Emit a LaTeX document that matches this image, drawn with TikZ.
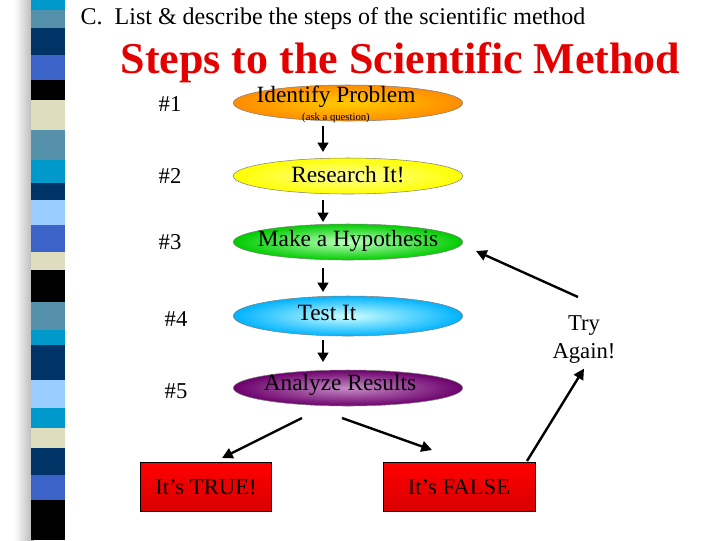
\documentclass[tikz,border=0pt]{standalone}
\usepackage{fontspec}
\setmainfont{Liberation Serif}
\usetikzlibrary{shapes.geometric,arrows.meta}
\tikzset{
  stepoval/.style={ellipse, draw=black!50, thin, minimum width=172pt, minimum height=27pt, inner sep=0pt},
  numlabel/.style={font=\fontsize{17}{19}\selectfont},
  steptext/.style={font=\fontsize{17.5}{19}\selectfont},
  downarrow/.style={-{Triangle[length=7pt,width=8pt]}, line width=1.6pt},
  bigarrow/.style={-{Triangle[length=8pt,width=8pt]}, line width=1.8pt},
  resultbox/.style={draw=black, shading=axis, top color=red, bottom color=red!85!black, minimum width=98pt, minimum height=37pt, font=\fontsize{17}{19}\selectfont}
}
\begin{document}
\begin{tikzpicture}[x=0.75pt,y=-0.75pt]
\useasboundingbox (0,0) rectangle (720,540);
\fill[white] (0,0) rectangle (720,540);
% stripes on the left
\shade[left color=white, right color=gray!60] (14,0) rectangle (34,540);
\foreach \ya/\yb/\col in {0/10/{0,153,204},10/28/{85,145,170},28/55/{0,51,102},55/80/{60,100,200},80/100/{0,0,0},100/130/{222,222,190},130/160/{85,145,170},160/183/{0,153,204},183/200/{0,51,102},200/225/{153,204,255},225/252/{60,100,200},252/270/{222,222,190},270/302/{0,0,0},302/330/{85,145,170},330/345/{0,153,204},345/380/{0,51,102},380/408/{153,204,255},408/428/{0,153,204},428/448/{222,222,190},448/475/{0,51,102},475/500/{60,100,200},500/540/{0,0,0}}{
  \definecolor{stripe}{RGB}{\col}
  \fill[stripe] (31,\ya) rectangle (65,\yb);
}
% titles
\node[anchor=west, font=\fontsize{18}{20}\selectfont] (heading) at (76,19) {C.\ \ List \& describe the steps of the scientific method};
\node[anchor=west, font=\fontsize{33}{35}\selectfont\bfseries, text=red!90!black] (title) at (116,63) {Steps to the Scientific Method};
% steps
\node[stepoval, shading=radial, inner color=orange!40!yellow, outer color=orange!90!yellow] (s1) at (348,103) {};
\node[steptext] (t1) at (336,97) {Identify Problem};
\node[font=\fontsize{8}{9}\selectfont] (q1) at (336,118) {(ask a question)};
\node[stepoval, shading=radial, inner color=yellow!40, outer color=yellow] (s2) at (348,176) {};
\node[steptext] (t2) at (348,175) {Research It!};
\node[stepoval, shading=radial, inner color=green!25, outer color=green!80!black] (s3) at (348,242) {};
\node[steptext] (t3) at (348,241) {Make a Hypothesis};
\node[stepoval, minimum height=30pt, shading=radial, inner color=cyan!20, outer color=cyan!70!blue] (s4) at (348,316) {};
\node[steptext] (t4) at (327,313) {Test It};
\node[stepoval, shading=radial, inner color=violet!45, outer color=violet!85!black] (s5) at (348,388) {};
\node[steptext] (t5) at (340,385) {Analyze Results};
% numbers
\node[numlabel] (n1) at (170,104) {\#1};
\node[numlabel] (n2) at (170,176) {\#2};
\node[numlabel] (n3) at (170,242) {\#3};
\node[numlabel] (n4) at (176,319) {\#4};
\node[numlabel] (n5) at (176,391) {\#5};
% arrows between steps
\coordinate (a1) at (323,126); \coordinate (b1) at (323,152);
\coordinate (a2) at (323,200); \coordinate (b2) at (323,222);
\coordinate (a3) at (323,268); \coordinate (b3) at (323,292);
\coordinate (a4) at (323,340); \coordinate (b4) at (323,362);
\foreach \i in {1,...,4}{\draw[downarrow] (a\i) -- (b\i);}
% results
\node[resultbox] (yes) at (206,487) {It’s TRUE!};
\node[resultbox, minimum width=114pt] (no) at (459,487) {It’s FALSE};
\coordinate (l5) at (302,418); \coordinate (r5) at (342,418);
\draw[bigarrow] (l5) -- (222,458);
\draw[bigarrow] (r5) -- (432,450);
% try again
\node[font=\fontsize{17}{21}\selectfont, align=center] (again) at (584,340) {Try\\Again!};
\coordinate (f1) at (527,461); \coordinate (f2) at (578,297); \coordinate (h3) at (476,251);
\draw[bigarrow] (f1) -- (again.south);
\draw[bigarrow] (f2) -- (h3);
\end{tikzpicture}
\end{document}
